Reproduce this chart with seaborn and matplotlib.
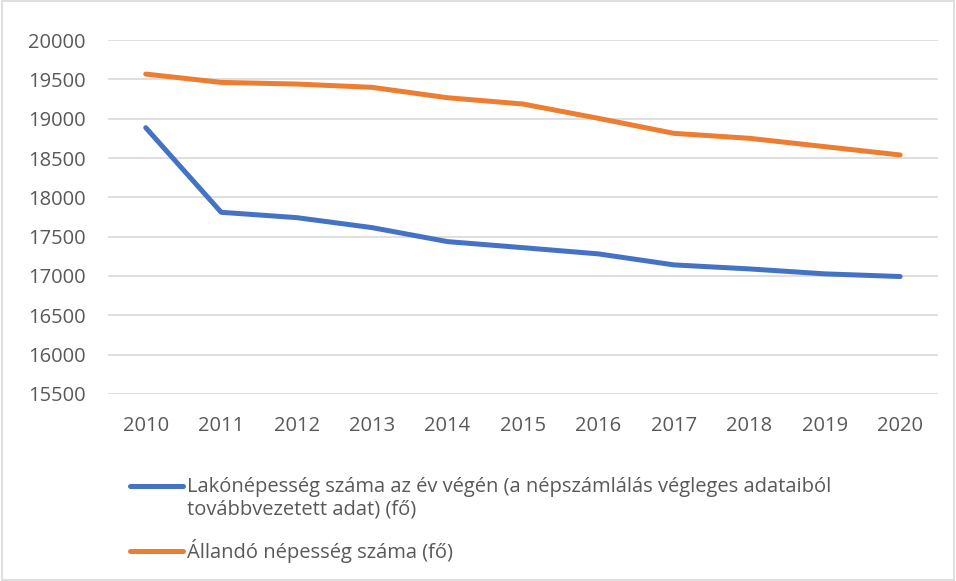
import pandas as pd
import matplotlib.pyplot as plt
import seaborn as sns
from matplotlib.patches import Rectangle

# data
years = [2010, 2011, 2012, 2013, 2014, 2015, 2016, 2017, 2018, 2019, 2020]
lakonepesseg = [18886, 17810, 17742, 17615, 17437, 17360, 17281, 17141, 17090, 17027, 16993]
allando = [19568, 19462, 19441, 19399, 19267, 19187, 19005, 18814, 18751, 18645, 18539]
label_lako = 'Lakónépesség száma az év végén (a népszámlálás végleges adataiból\ntovábbvezetett adat) (fő)'
label_all = 'Állandó népesség száma (fő)'

sns.set_style('white')
plt.rcParams['font.family'] = ['Open Sans', 'DejaVu Sans']
text_color = '#595959'
grid_color = '#d9d9d9'
fs = 14.5

fig = plt.figure(figsize=(9.56, 5.81), dpi=100)
ax = fig.add_axes([0.113, 0.322, 0.868, 0.609])

sns.lineplot(x=years, y=lakonepesseg, ax=ax, color='#4472C4', linewidth=3.6,
             label=label_lako, solid_capstyle='round')
sns.lineplot(x=years, y=allando, ax=ax, color='#ED7D31', linewidth=3.6,
             label=label_all, solid_capstyle='round')

ax.set_xlim(years[0] - 0.5, years[-1] + 0.5)
ax.set_ylim(15500, 20000)
ax.set_yticks(range(15500, 20001, 500))
ax.set_xticks(years)
ax.set_xticklabels([str(y) for y in years])
ax.grid(axis='y', color=grid_color, linewidth=1.2)
ax.grid(axis='x', visible=False)
ax.set_axisbelow(True)
for s in ax.spines.values():
    s.set_visible(False)
ax.tick_params(axis='both', length=0, labelsize=fs, colors=text_color)
ax.tick_params(axis='y', pad=16)
ax.tick_params(axis='x', pad=16)

handles, labels = ax.get_legend_handles_labels()
ax.get_legend().remove()
leg = fig.legend(handles, labels, loc='upper left', bbox_to_anchor=(0.125, 0.197),
                 frameon=False, fontsize=fs, labelcolor=text_color, handlelength=2.65,
                 handletextpad=0.2, labelspacing=0.95, borderpad=0)
# put the first handle next to the first line of its wrapped label
first = leg.get_lines()[0]
first.set_ydata([y + 8.7 for y in first.get_ydata()])

# chart border
fig.patches.append(Rectangle((0.002, 0.002), 0.996, 0.996, transform=fig.transFigure,
                             fill=False, edgecolor=grid_color, linewidth=1.2))

plt.savefig('out.png', dpi=100)
